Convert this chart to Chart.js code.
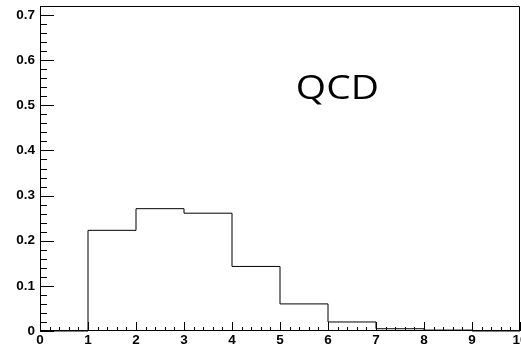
<!DOCTYPE html>
<html><head><meta charset="utf-8">
<script src="https://cdn.jsdelivr.net/npm/chart.js@4.4.0/dist/chart.umd.min.js"></script>
<style>html,body{margin:0;padding:0;background:#fff;overflow:hidden;}</style>
</head><body>
<canvas id="c" width="521" height="351"></canvas>
<script>
const binEdges = [0, 1, 2, 3, 4, 5, 6, 7, 8, 9, 10];
const binValues = [0, 0.223, 0.271, 0.261, 0.143, 0.060, 0.020, 0.005, 0.002, 0];
const xTickValues = [0, 1, 2, 3, 4, 5, 6, 7, 8, 9, 10];
const xTickLabels = ['0', '1', '2', '3', '4', '5', '6', '7', '8', '9', '10'];
const yTickValues = [0, 0.1, 0.2, 0.3, 0.4, 0.5, 0.6, 0.7];
const yTickLabels = ['0', '0.1', '0.2', '0.3', '0.4', '0.5', '0.6', '0.7'];
const xRange = [0, 10];
const yRange = [0, 0.72];
const xMinorStep = 0.2;
const yMinorStep = 0.02;
const annotationText = 'QCD';
const annotationPos = [5.33, 0.515];

const stepPoints = binEdges.map((e, i) => ({
  x: e,
  y: i < binValues.length ? binValues[i] : binValues[binValues.length - 1]
}));

const tickFont = { family: '"Liberation Sans", Arial, sans-serif', size: 13.5, weight: 'bold' };

const framePlugin = {
  id: 'rootFrame',
  afterDraw(chart) {
    const ctx = chart.ctx;
    const a = chart.chartArea;
    const xs = chart.scales.x, ys = chart.scales.y;
    ctx.save();
    ctx.strokeStyle = '#000';
    ctx.lineWidth = 1;
    ctx.beginPath();
    ctx.rect(a.left + 0.5, a.top + 0.5, a.right - a.left - 1, a.bottom - a.top - 1);
    ctx.stroke();
    // y ticks (inside)
    ctx.beginPath();
    const nY = Math.round((yRange[1] - yRange[0]) / yMinorStep);
    for (let k = 0; k <= nY; k++) {
      const v = yRange[0] + k * yMinorStep;
      const major = yTickValues.some(t => Math.abs(t - v) < 1e-9);
      const py = Math.round(ys.getPixelForValue(v)) + 0.5;
      ctx.moveTo(a.left, py);
      ctx.lineTo(a.left + (major ? 14 : 7), py);
    }
    // x ticks (inside)
    const nX = Math.round((xRange[1] - xRange[0]) / xMinorStep);
    for (let k = 0; k <= nX; k++) {
      const v = xRange[0] + k * xMinorStep;
      const major = xTickValues.some(t => Math.abs(t - v) < 1e-9);
      const px = Math.round(xs.getPixelForValue(v)) + 0.5;
      ctx.moveTo(px, a.bottom);
      ctx.lineTo(px, a.bottom - (major ? 9 : 4));
    }
    ctx.stroke();
    // annotation
    ctx.fillStyle = '#000';
    ctx.font = '33px "Open Sans", "Noto Sans", sans-serif';
    ctx.textBaseline = 'alphabetic';
    ctx.textAlign = 'left';
    ctx.translate(xs.getPixelForValue(annotationPos[0]), ys.getPixelForValue(annotationPos[1]));
    ctx.scale(1.18, 1);
    ctx.fillText(annotationText, 0, 0);
    ctx.restore();
  }
};

new Chart(document.getElementById('c'), {
  type: 'line',
  data: {
    datasets: [{
      data: stepPoints,
      stepped: 'before',
      borderColor: '#000',
      borderWidth: 1,
      pointRadius: 0,
      fill: false,
      clip: 5
    }]
  },
  options: {
    responsive: false,
    devicePixelRatio: 1,
    animation: false,
    layout: { padding: { top: 6, right: 1, bottom: 0, left: 0 } },
    plugins: { legend: { display: false }, tooltip: { enabled: false } },
    scales: {
      x: {
        type: 'linear',
        min: xRange[0], max: xRange[1],
        grid: { display: false, drawTicks: false },
        border: { display: false },
        afterBuildTicks(s) { s.ticks = xTickValues.map(v => ({ value: v })); },
        afterFit(s) { s.height = 20; s.paddingLeft = 0; s.paddingRight = 0; },
        ticks: {
          font: tickFont, color: '#000', padding: 1, maxRotation: 0, autoSkip: false,
          callback: (v, i) => xTickLabels[i]
        }
      },
      y: {
        type: 'linear',
        min: yRange[0], max: yRange[1],
        grid: { display: false, drawTicks: false },
        border: { display: false },
        afterBuildTicks(s) { s.ticks = yTickValues.map(v => ({ value: v })); },
        afterFit(s) { s.width = 40; s.paddingTop = 0; s.paddingBottom = 0; },
        ticks: {
          font: tickFont, color: '#000', padding: 5, autoSkip: false,
          callback: (v, i) => yTickLabels[i]
        }
      }
    }
  },
  plugins: [framePlugin]
});
</script>
</body></html>
